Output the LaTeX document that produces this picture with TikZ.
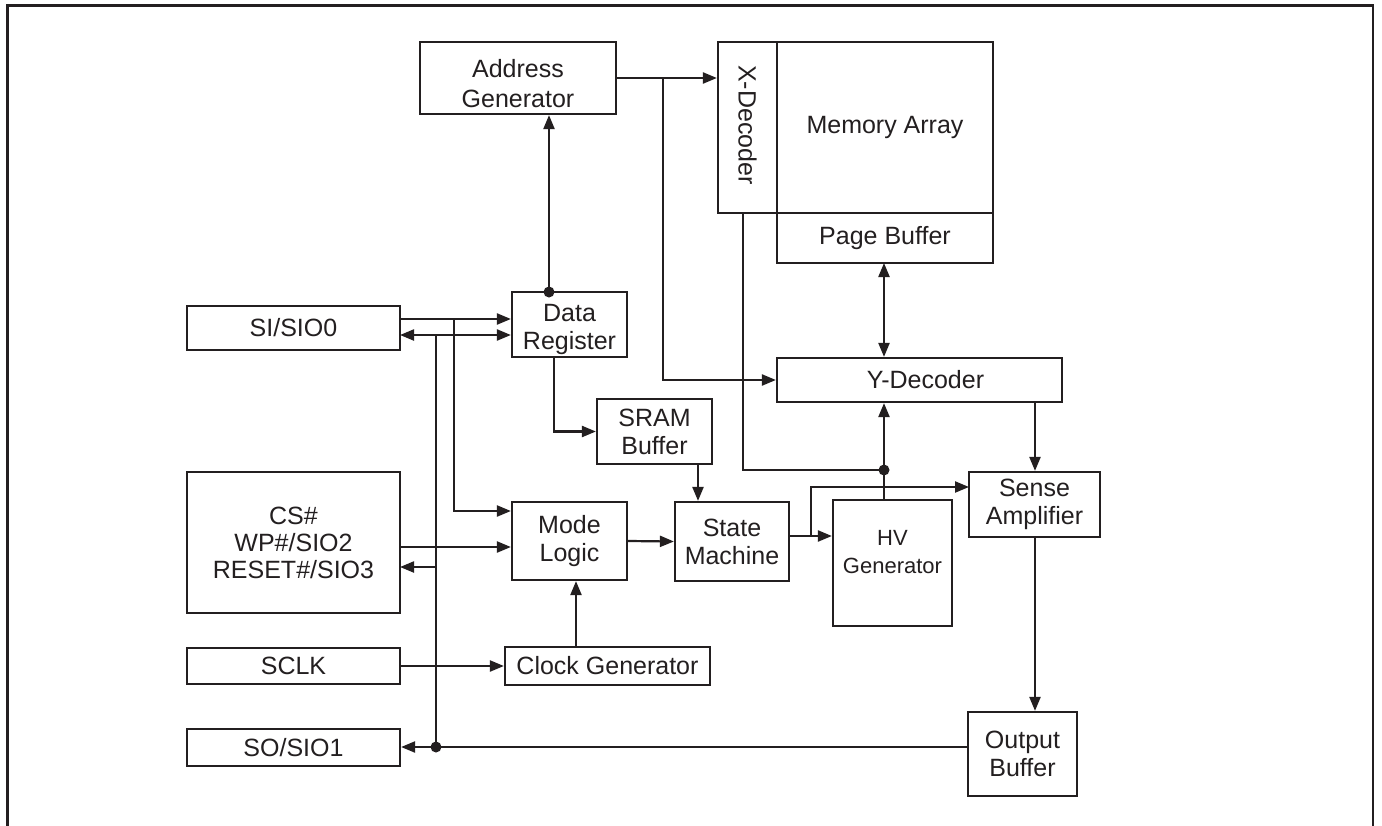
\documentclass[tikz,border=0pt]{standalone}
\usepackage{fontspec}
\setmainfont{Liberation Sans}
\usetikzlibrary{arrows.meta}
\definecolor{ink}{RGB}{35,31,32}
\newcommand{\bigtxt}{\fontsize{25}{28}\selectfont}
\newcommand{\smalltxt}{\fontsize{22}{28}\selectfont}
\tikzset{
  box/.style={draw=ink, line width=2.2pt, inner sep=0pt, align=center, font=\bigtxt, text=ink},
  lbl/.style={inner sep=0pt, align=center, font=\bigtxt, text=ink},
  conn/.style={draw=ink, line width=2.2pt},
  arr/.style={conn, -{Triangle[length=14pt,width=11pt]}},
  arrb/.style={conn, {Triangle[length=14pt,width=11pt]}-{Triangle[length=14pt,width=11pt]}},
  dot/.style={fill=ink, draw=none, circle, minimum size=11pt, inner sep=0pt}
}
\begin{document}
\begin{tikzpicture}[x=1pt,y=-1pt]
\useasboundingbox (0,0) rectangle (1382,825);
\fill[white] (0,0) rectangle (1382,825);
% outer frame
\draw[ink, line width=2.8pt] (7.5,826) -- (7.5,5.5) -- (1373,5.5) -- (1373,826);

% boxes
\node[box, minimum width=196pt, minimum height=72pt] (addr) at (518,78) {};
\node[lbl, font=\fontsize{25}{30}\selectfont] (addrt) at (518,84) {Address\\Generator};
\node[box, minimum width=216pt, minimum height=171pt] (mem) at (885,127.5) {Memory Array};
\node[box, minimum width=59pt, minimum height=171pt] (xdec) at (747.5,127.5) {};
\node[font=\bigtxt, text=ink, rotate=-90] (xdect) at (747.5,125) {X-Decoder};
\node[box, minimum width=216pt, minimum height=50pt] (page) at (885,238) {Page Buffer};
\node[box, minimum width=115pt, minimum height=65pt] (datareg) at (569.5,324.5) {};
\node[lbl] (dataregt) at (569.5,329) {Data\\Register};
\node[box, minimum width=213pt, minimum height=44pt] (si) at (293.5,328) {SI/SIO0};
\node[box, minimum width=285pt, minimum height=44pt] (ydec) at (919.5,380) {\hspace*{12pt}Y-Decoder};
\node[box, minimum width=115pt, minimum height=65pt] (sram) at (654.5,431.5) {SRAM\\Buffer};
\node[box, minimum width=213pt, minimum height=141pt, font=\fontsize{25}{27}\selectfont] (cs) at (293.5,542.5) {CS\#\\WP\#/SIO2\\RESET\#/SIO3};
\node[box, minimum width=115pt, minimum height=78pt] (mode) at (569.5,541) {Mode\\Logic};
\node[box, minimum width=114pt, minimum height=79pt] (state) at (732,541.5) {State\\Machine};
\node[box, minimum width=119pt, minimum height=126pt] (hv) at (892.5,563) {};
\node[font=\smalltxt, text=ink, align=center] (hvt) at (892.5,552) {HV\\Generator};
\node[box, minimum width=131pt, minimum height=65pt] (sense) at (1034.5,504.5) {Sense\\Amplifier};
\node[box, minimum width=205pt, minimum height=38pt] (clock) at (607.5,666) {Clock Generator};
\node[box, minimum width=213pt, minimum height=36pt] (sclk) at (293.5,666) {SCLK};
\node[box, minimum width=213pt, minimum height=37pt] (so) at (293.5,747.5) {SO/SIO1};
\node[box, minimum width=109pt, minimum height=84pt] (out) at (1022.5,754) {Output\\Buffer};

% coordinates
\coordinate (j1) at (663,78);
\coordinate (d1) at (549,292);
\coordinate (siA) at (400,319);
\coordinate (siB) at (400,335);
\coordinate (v1) at (454,319);
\coordinate (v1b) at (454,511);
\coordinate (v2) at (436,335);
\coordinate (v2b) at (436,747);
\coordinate (csA) at (400,547);
\coordinate (csB) at (400,567);
\coordinate (ck) at (576,647);
\coordinate (dr) at (554,357);
\coordinate (sr) at (698,464);
\coordinate (st) at (789,536);
\coordinate (br) at (811,536);
\coordinate (sn) at (969,487);
\coordinate (hvtop) at (884,500);
\coordinate (jd) at (884,470);
\coordinate (xd) at (743,213);
\coordinate (pb) at (884,263);
\coordinate (yd) at (1035,402);
\coordinate (se) at (1035,537);

% connectors
\draw[arr] (addr.east) -- (addr.east -| xdec.west);
\draw[arr] (j1) |- (ydec.west);
\draw[arr] (d1) -- (d1 |- addr.south);
\draw[arr] (siA) -- (siA -| datareg.west);
\draw[arrb] (siB) -- (siB -| datareg.west);
\draw[arr] (v1) -- (v1b) -- (v1b -| mode.west);
\draw[conn] (v2) -- (v2b);
\draw[arr] (csA) -- (csA -| mode.west);
\draw[arr] (csB -| v2) -- (csB);
\draw[arr] (sclk.east) -- (clock.west);
\draw[arr] (ck) -- (ck |- mode.south);
\draw[arr] (out.west |- v2b) -- (v2b -| so.east);
\draw[arr] (dr) |- (sram.west);
\draw[arr] (sr) -- (sr |- state.north);
\draw[arr] (mode.east) -- (state.west);
\draw[arr] (st) -- (st -| hv.west);
\draw[arr] (br) |- (sn);
\draw[arr] (hvtop) -- (hvtop |- ydec.south);
\draw[conn] (xd) |- (jd);
\draw[arrb] (pb) -- (pb |- ydec.north);
\draw[arr] (yd) -- (yd |- sense.north);
\draw[arr] (se) -- (se |- out.north);

% junction dots
\node[dot] (dot1) at (d1) {};
\node[dot] (dot2) at (v2b) {};
\node[dot] (dot3) at (jd) {};
\end{tikzpicture}
\end{document}
